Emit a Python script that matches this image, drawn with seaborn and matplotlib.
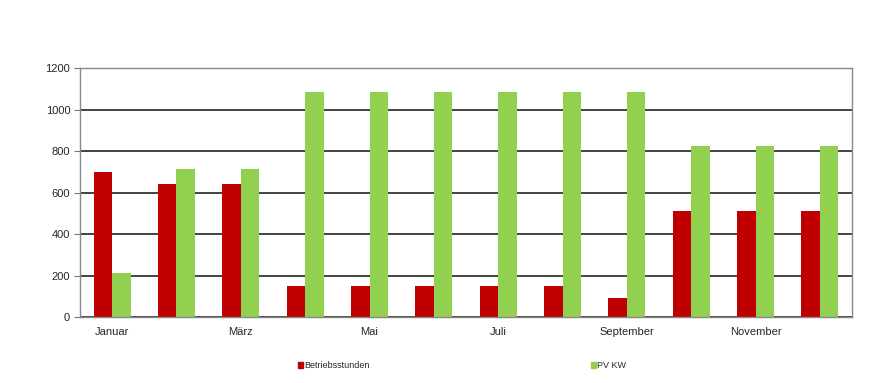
import numpy as np
import pandas as pd
import matplotlib
matplotlib.use("Agg")
import matplotlib.pyplot as plt
import seaborn as sns

months = ["Januar", "Februar", "März", "April", "Mai", "Juni", "Juli",
          "August", "September", "Oktober", "November", "Dezember"]
betriebsstunden = [700, 640, 640, 150, 150, 150, 150, 150, 90, 510, 510, 510]
pv_kw = [212, 715, 715, 1082, 1082, 1082, 1082, 1082, 1082, 822, 822, 822]
tick_labels = ["Januar", "März", "Mai", "Juli", "September", "November"]
series = ["Betriebsstunden", "PV KW"]
colors = ["#C00000", "#92D050"]

df = pd.DataFrame({"Monat": months * 2,
                   "Wert": betriebsstunden + pv_kw,
                   "Serie": [series[0]] * 12 + [series[1]] * 12})

sns.set_style("white")
plt.rcParams["font.family"] = ["Liberation Sans", "DejaVu Sans"]

fig = plt.figure(figsize=(8.74, 3.83), dpi=100)
ax = fig.add_axes([0.0915, 0.172, 0.8835, 0.6505])

sns.barplot(data=df, x="Monat", y="Wert", hue="Serie", palette=colors,
            width=0.575, saturation=1, ax=ax, legend=False)
for p in ax.patches:
    p.set_edgecolor("none")

ax.set_ylim(0, 1200)
ax.set_xlim(-0.5, 11.5)
ax.set_yticks(np.arange(0, 1201, 200))
ax.yaxis.grid(True, color="#111111", linewidth=1.1)
ax.set_axisbelow(True)

# ticks between categories, labels on every second month
ax.set_xticks(np.arange(-0.5, 12, 1))
ax.set_xticklabels([])
ax.set_xticks(np.arange(0, 12, 2), minor=True)
ax.set_xticklabels(tick_labels, minor=True)
ax.tick_params(axis="x", which="major", direction="out", length=4, color="#777777", width=1)
ax.tick_params(axis="x", which="minor", length=0, labelsize=8, pad=7)
ax.tick_params(axis="y", direction="out", length=4, color="#777777", labelsize=8, pad=3, left=True)
ax.set_xlabel("")
ax.set_ylabel("")

for s in ax.spines.values():
    s.set_color("#888888")
    s.set_linewidth(1)

handles = [plt.Rectangle((0, 0), 1, 1, color=c) for c in colors]
fig.legend(handles, series, loc="center left", bbox_to_anchor=(0.332, 0.045),
           ncol=2, frameon=False, fontsize=6.5, handlelength=0.55, handleheight=0.55,
           handletextpad=0.15, columnspacing=24.5)

fig.savefig("out.png", dpi=100)
